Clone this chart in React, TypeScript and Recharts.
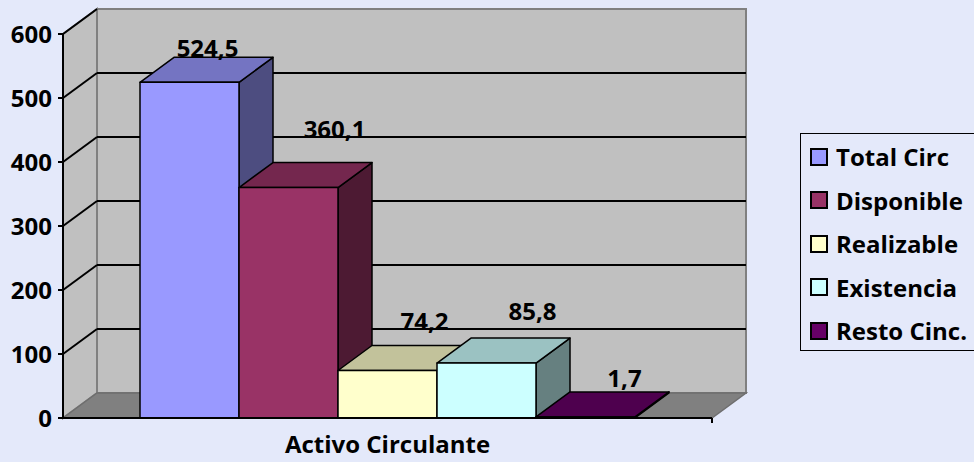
import React from "react";
import * as RC from "recharts";
import { BarChart, Bar, XAxis, YAxis, LabelList } from "recharts";

const categories = ["Activo Circulante"];
const seriesNames = ["Total Circ", "Disponible", "Realizable", "Existencia", "Resto Cinc."];
const seriesValues = [524.5, 360.1, 74.2, 85.8, 1.7];
const yTicks = [0, 100, 200, 300, 400, 500, 600];

// look
const seriesColors = ["#9999FF", "#993366", "#FFFFCC", "#CCFFFF", "#660066"];
const labelNudge = [
  [18, 10],
  [46, 34],
  [37, 25],
  [46, 28],
  [39, 14],
];
const DX = 34;
const DY = 25;
const BG = "#E4E9FA";
const FONT = "'Open Sans', Lato, sans-serif";

const data = categories.map((c) => {
  const row: Record<string, any> = { name: c };
  seriesNames.forEach((_, i) => (row[`s${i}`] = seriesValues[i]));
  return row;
});

function shade(hex: string, f: number) {
  const n = parseInt(hex.slice(1), 16);
  const r = Math.round(((n >> 16) & 255) * f);
  const g = Math.round(((n >> 8) & 255) * f);
  const b = Math.round((n & 255) * f);
  return `rgb(${r},${g},${b})`;
}

const makeBar3D = (color: string) => (props: any) => {
  const { x, y, width: w, height: h } = props;
  if (x == null || y == null) return null;
  return (
    <g stroke="#000" strokeWidth={1.5} strokeLinejoin="round">
      <polygon
        points={`${x + w},${y} ${x + w + DX},${y - DY} ${x + w + DX},${y + h - DY} ${x + w},${y + h}`}
        fill={shade(color, 0.5)}
      />
      <polygon
        points={`${x},${y} ${x + DX},${y - DY} ${x + w + DX},${y - DY} ${x + w},${y}`}
        fill={shade(color, 0.76)}
      />
      <rect x={x} y={y} width={w} height={Math.max(h, 0)} fill={color} />
    </g>
  );
};

const makeLabel = (i: number) => (props: any) => {
  const { x, y, width, value } = props;
  const [nx, ny] = labelNudge[i];
  return (
    <text
      x={x + width / 2 + nx}
      y={y - DY - ny}
      textAnchor="middle"
      dominantBaseline="central"
      fontSize={24}
      fontWeight="bold"
      fontFamily={FONT}
      fill="#000"
    >
      {Number(value).toFixed(1).replace(".", ",")}
    </text>
  );
};

function Walls() {
  const hook = (RC as any).usePlotArea;
  const area = typeof hook === "function" ? hook() : undefined;
  const { x, y, width: w, height: h } = area ?? { x: 63, y: 34, width: 649, height: 384 };
  const top = yTicks[yTicks.length - 1];
  const yOf = (v: number) => y + h * (1 - v / top);
  return (
    <g>
      <polygon
        points={`${x},${y} ${x + DX},${y - DY} ${x + DX},${y + h - DY} ${x},${y + h}`}
        fill="#C0C0C0"
        stroke="#808080"
        strokeWidth={2}
      />
      <rect x={x + DX} y={y - DY} width={w} height={h} fill="#C0C0C0" stroke="#808080" strokeWidth={2} />
      <polygon
        points={`${x},${y + h} ${x + DX},${y + h - DY} ${x + w + DX},${y + h - DY} ${x + w},${y + h}`}
        fill="#808080"
        stroke="#6E6E6E"
        strokeWidth={1.5}
      />
      {yTicks.slice(1, -1).map((t) => (
        <g key={t} stroke="#000" strokeWidth={2}>
          <line x1={x} y1={yOf(t)} x2={x + DX} y2={yOf(t) - DY} />
          <line x1={x + DX} y1={yOf(t) - DY} x2={x + w + DX} y2={yOf(t) - DY} />
        </g>
      ))}
      <line x1={x} y1={y} x2={x + DX} y2={y - DY} stroke="#000" strokeWidth={2} />
      <line x1={x + w} y1={y + h} x2={x + w} y2={y + h + 5} stroke="#000" strokeWidth={2} />
    </g>
  );
}

function Legend3D() {
  return (
    <div
      style={{
        position: "absolute",
        left: 800,
        top: 133,
        width: 190,
        height: 218,
        border: "1.5px solid #000",
        background: BG,
        boxSizing: "border-box",
        fontFamily: FONT,
      }}
    >
      {seriesNames.map((n, i) => (
        <div
          key={n}
          style={{ display: "flex", alignItems: "center", height: 43.5, paddingLeft: 9, marginTop: i === 0 ? 1 : 0 }}
        >
          <div
            style={{
              width: 14,
              height: 14,
              background: seriesColors[i],
              border: "2px solid #000",
              marginRight: 8,
            }}
          />
          <span style={{ fontSize: 24, fontWeight: "bold", color: "#000", whiteSpace: "nowrap" }}>{n}</span>
        </div>
      ))}
    </div>
  );
}

export default function App() {
  return (
    <div
      style={{
        position: "absolute",
        left: 0,
        top: 0,
        width: 974,
        height: 462,
        background: BG,
        overflow: "hidden",
        fontFamily: FONT,
      }}
    >
      <BarChart
        width={974}
        height={462}
        data={data}
        margin={{ top: 34, right: 262, bottom: 0, left: 0 }}
        barCategoryGap={77}
        barGap={0}
      >
        <Walls />
        <XAxis
          dataKey="name"
          height={44}
          tickSize={0}
          tickMargin={18}
          axisLine={{ stroke: "#000", strokeWidth: 2 }}
          tick={{ fontSize: 24, fontWeight: "bold", fill: "#000", fontFamily: FONT }}
        />
        <YAxis
          width={63}
          domain={[0, 600]}
          ticks={yTicks}
          interval={0}
          tickSize={5}
          tickMargin={6}
          axisLine={{ stroke: "#000", strokeWidth: 2 }}
          tickLine={{ stroke: "#000", strokeWidth: 2 }}
          tick={{ fontSize: 24, fontWeight: "bold", fill: "#000", fontFamily: FONT }}
        />
        {seriesNames.map((n, i) => (
          <Bar
            key={n}
            dataKey={`s${i}`}
            name={n}
            fill={seriesColors[i]}
            shape={makeBar3D(seriesColors[i])}
            isAnimationActive={false}
          >
            <LabelList dataKey={`s${i}`} content={makeLabel(i)} />
          </Bar>
        ))}
      </BarChart>
      <Legend3D />
    </div>
  );
}
